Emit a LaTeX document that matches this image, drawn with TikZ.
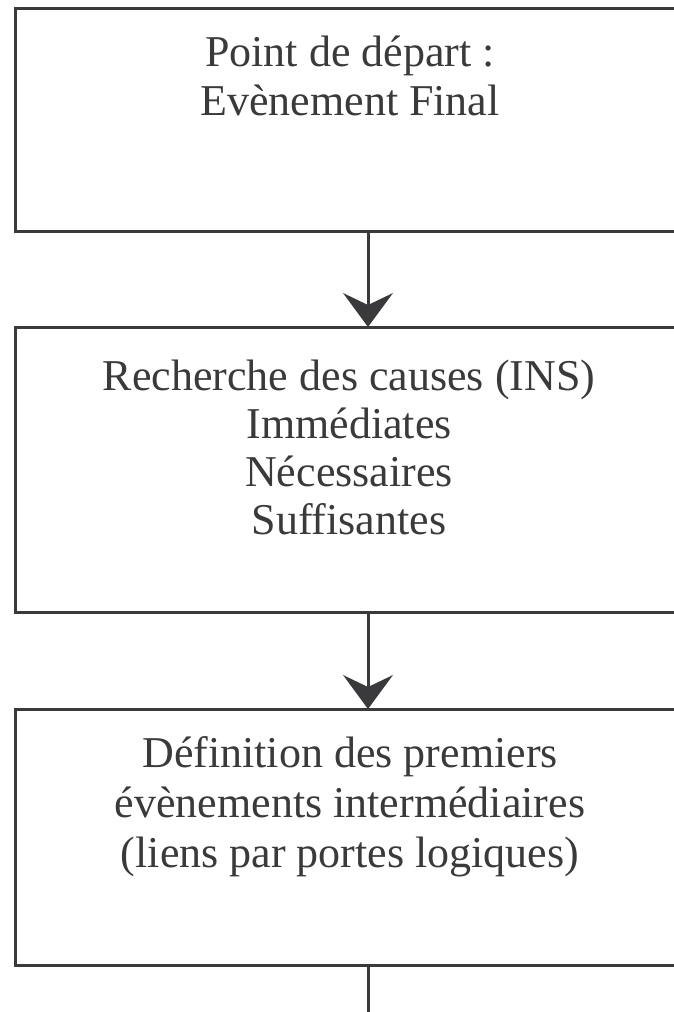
\documentclass[tikz,border=0pt]{standalone}
\usepackage{fontspec}
\setmainfont{Liberation Serif}
\usetikzlibrary{arrows.meta}
\definecolor{ink}{RGB}{58,58,60}
\tikzset{
  stepbox/.style={draw=ink, line width=3pt, rectangle, outer sep=0pt,
    inner sep=0pt, minimum width=675pt, anchor=north west},
  boxtext/.style={text=ink, align=center, anchor=north, inner sep=0pt,
    font=\fontsize{44}{49}\selectfont},
  flow/.style={draw=ink, line width=3pt,
    -{Stealth[length=34pt, width=50pt, inset=12pt, line width=0pt]}},
  flowline/.style={draw=ink, line width=3pt}
}
\newcommand{\firstline}{\rule{0pt}{40pt}}
\begin{document}
\begin{tikzpicture}[x=1pt, y=-1pt]
  \useasboundingbox (0,0) rectangle (674,1012);
  \clip (0,0) rectangle (674,1012);

  % process boxes (right side runs off the page)
  \node[stepbox, minimum height=223pt] (b1) at (15,8) {};
  \node[stepbox, minimum height=285pt] (b2) at (15,327) {};
  \node[stepbox, minimum height=256pt] (b3) at (15,709) {};

  % box captions, first baseline 40pt below the node top
  \node[boxtext] (t1) at (350,26)
    {\firstline Point de départ :\\Evènement Final};
  \node[boxtext, font=\fontsize{44}{48}\selectfont] (t2) at (349,350)
    {\firstline Recherche des causes (INS)\\Immédiates\\Nécessaires\\Suffisantes};
  \node[boxtext, font=\fontsize{44}{50}\selectfont] (t3) at (350,727)
    {\firstline Définition des premiers\\évènements intermédiaires\\(liens par portes logiques)};

  % connectors
  \coordinate (ax) at (368,0);
  \coordinate (out) at (368,1030);
  \draw[flow] (b1.south -| ax) -- (b2.north -| ax);
  \draw[flow] (b2.south -| ax) -- (b3.north -| ax);
  \draw[flowline] (b3.south -| ax) -- (out);
\end{tikzpicture}
\end{document}
